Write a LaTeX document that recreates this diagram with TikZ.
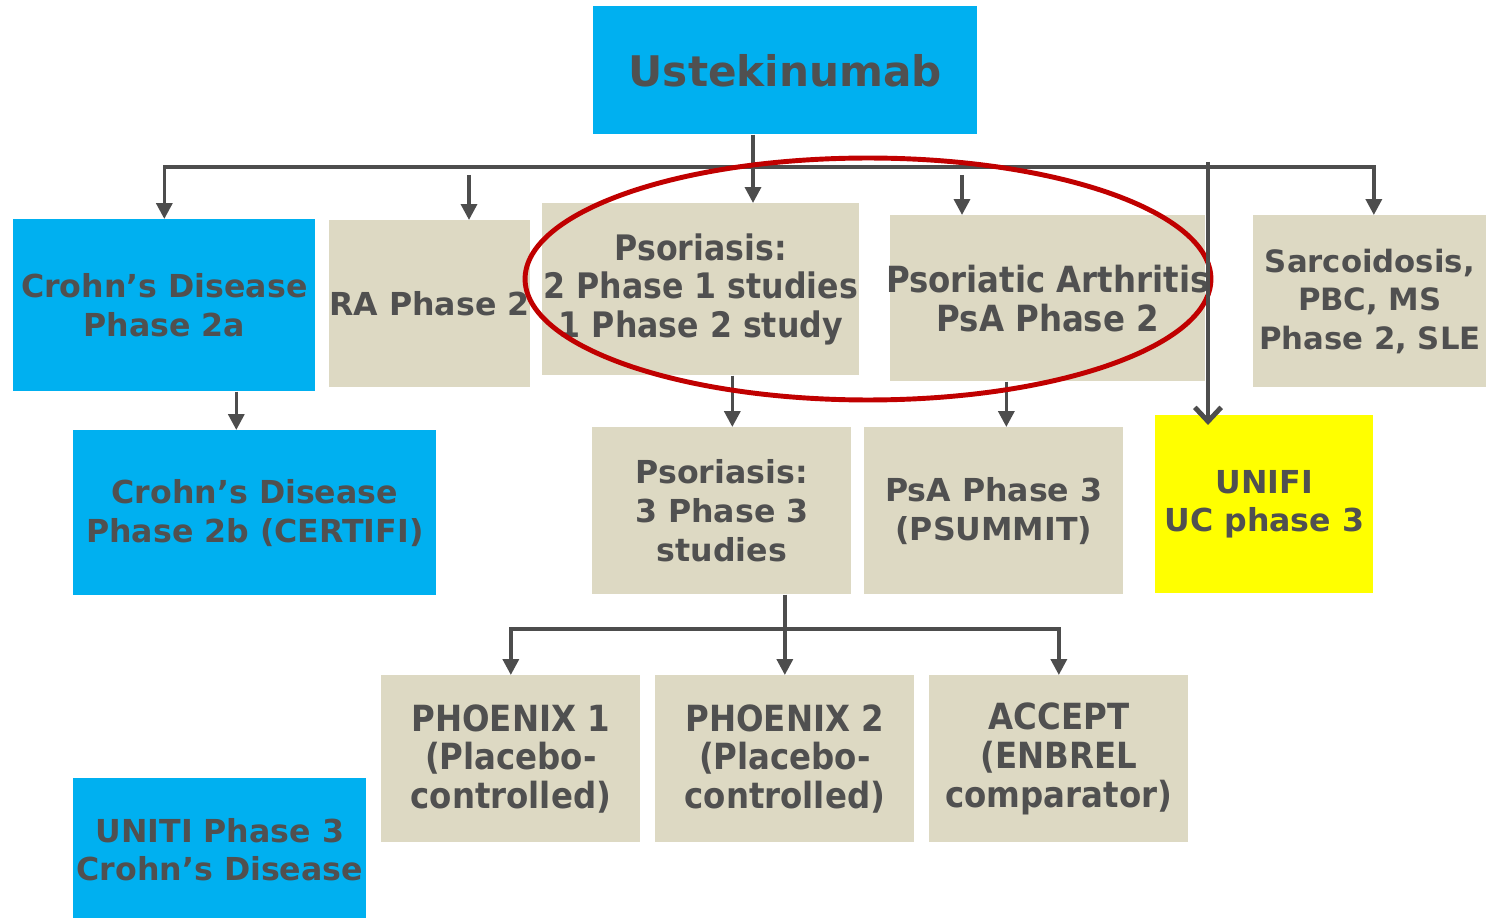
\documentclass[tikz,border=0pt]{standalone}
\usepackage{fontspec}
\setmainfont{DejaVu Sans}
\newfontfamily\condfont{DejaVu Sans Condensed}
\usetikzlibrary{arrows.meta}
\definecolor{ustblue}{HTML}{00B0F0}
\definecolor{studytan}{HTML}{DDD9C3}
\definecolor{unifiyellow}{HTML}{FFFF00}
\definecolor{txtgray}{HTML}{505050}
\definecolor{linegray}{HTML}{4D4D4D}
\definecolor{circlered}{HTML}{C00000}
\tikzset{
  box/.style={anchor=north west, inner sep=0pt, align=center, text=txtgray,
    font=\bfseries\fontsize{18}{22}\selectfont},
  condbox/.style={box, inner xsep=-4pt, font=\condfont\bfseries\fontsize{20.5}{22}\selectfont},
  conn/.style={draw=linegray, line width=2pt, -{Triangle[width=9pt,length=9pt]}},
  bigconn/.style={draw=linegray, line width=2.8pt, -{Straight Barb[width=15pt,length=8pt]}},
}
\begin{document}
\begin{tikzpicture}[x=0.02cm,y=-0.02cm]
	\useasboundingbox (0,0) rectangle (1486,918);
	% root
	\node[box,fill=ustblue,minimum width=7.68cm,minimum height=2.56cm,
	  font=\bfseries\fontsize{24}{28}\selectfont] at (593,6) (ust) {Ustekinumab};
	% first row
	\node[box,fill=ustblue,minimum width=6.04cm,minimum height=3.44cm] at (13,219) (crohnA) {Crohn’s Disease\\Phase 2a};
	\node[box,fill=studytan,minimum width=3.98cm,minimum height=3.34cm] at (329,220) (ra) {RA Phase 2};
	\node[condbox,fill=studytan,minimum width=6.34cm,minimum height=3.44cm,
	  font=\condfont\bfseries\fontsize{20}{22}\selectfont] at (542,203) (psorA) {Psoriasis:\\2 Phase 1 studies\\1 Phase 2 study};
	\node[condbox,fill=studytan,minimum width=6.30cm,minimum height=3.32cm] at (890,215) (psaA) {Psoriatic Arthritis\\PsA Phase 2};
	\node[box,fill=studytan,minimum width=4.66cm,minimum height=3.44cm,
	  font=\bfseries\fontsize{17.5}{22}\selectfont] at (1253,215) (sarc) {Sarcoidosis,\\PBC, MS\\Phase 2, SLE};
	% second row
	\node[box,fill=ustblue,minimum width=7.26cm,minimum height=3.30cm] at (73,430) (crohnB) {Crohn’s Disease\\Phase 2b (CERTIFI)};
	\node[box,fill=studytan,minimum width=5.18cm,minimum height=3.34cm] at (592,427) (psorB) {Psoriasis:\\3 Phase 3\\studies};
	\node[box,fill=studytan,minimum width=5.18cm,minimum height=3.34cm] at (864,427) (psaB) {PsA Phase 3\\(PSUMMIT)};
	\node[box,fill=unifiyellow,minimum width=4.36cm,minimum height=3.56cm] at (1155,415) (unifi) {UNIFI\\UC phase 3};
	% third row
	\node[condbox,fill=studytan,minimum width=5.18cm,minimum height=3.34cm] at (381,675) (phxA) {PHOENIX 1\\(Placebo-\\controlled)};
	\node[condbox,fill=studytan,minimum width=5.18cm,minimum height=3.34cm] at (655,675) (phxB) {PHOENIX 2\\(Placebo-\\controlled)};
	\node[condbox,fill=studytan,minimum width=5.18cm,minimum height=3.34cm] at (929,675) (accept) {ACCEPT\\(ENBREL\\comparator)};
	\node[box,fill=ustblue,minimum width=5.86cm,minimum height=2.86cm] at (73,778) (uniti) {UNITI Phase 3\\Crohn’s Disease};
	% bus from the root
	\coordinate (bus) at (753,167);
	\draw[conn] (ust.south -| bus) -- (bus |- psorA.north);
	\draw[conn] (bus) -| (crohnA.north);
	\draw[conn] (bus) -| ([xshift=0.08cm]sarc.north);
	% loose arrows
	\coordinate (raTop) at (469,175);
	\coordinate (psaTop) at (962,175);
	\coordinate (unifiTop) at (1208,162);
	\draw[conn] (raTop) -- (raTop |- ra.north);
	\draw[conn] (psaTop) -- (psaTop |- psaA.north);
	% follow-ups
	\draw[conn] ([xshift=1.44cm]crohnA.south) -- ([xshift=1.44cm]crohnA.south |- crohnB.north);
	\draw[conn] ([xshift=0.63cm]psorA.south) -- ([xshift=0.63cm]psorA.south |- psorB.north);
	\draw[conn] ([xshift=-0.83cm]psaA.south) -- ([xshift=-0.83cm]psaA.south |- psaB.north);
	% phase 3 psoriasis studies
	\coordinate (bus2) at (phxB.north |- 0,629);
	\draw[conn] (psorB.south -| phxB.north) -- (phxB.north);
	\draw[conn] (bus2) -| (phxA.north);
	\draw[conn] (bus2) -| (accept.north);
	% highlight
	\draw[circlered,line width=2.8pt] (868,279) ellipse [x radius=6.86cm, y radius=2.42cm];
	\draw[bigconn] (unifiTop) -- ([yshift=-0.2cm]unifiTop |- unifi.north);
\end{tikzpicture}
\end{document}
